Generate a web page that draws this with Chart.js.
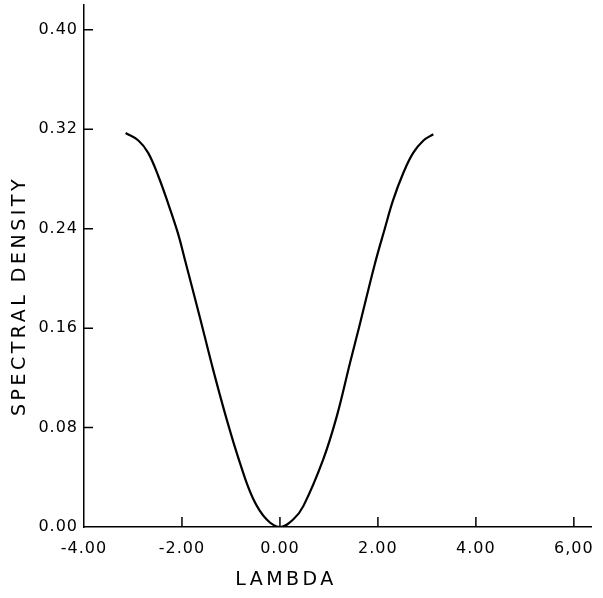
<!DOCTYPE html>
<html>
<head>
<meta charset="utf-8">
<script src="https://cdn.jsdelivr.net/npm/chart.js@4.4.1/dist/chart.umd.min.js"></script>
<style>
  html, body { margin: 0; padding: 0; background: #fff; }
  #wrap { width: 603px; height: 598px; }
</style>
</head>
<body>
<div id="wrap"><canvas id="densityChart"></canvas></div>
<script>
// values
const lambda = [-3.15, -2.89, -2.69, -2.48, -2.28, -2.08, -1.94, -1.63, -1.36, -1.09, -0.82, -0.55, -0.27, 0.00,
                0.27, 0.48, 0.88, 1.16, 1.43, 1.63, 1.94, 2.14, 2.31, 2.52, 2.72, 2.93, 3.13];
const density = [0.317, 0.311, 0.301, 0.282, 0.260, 0.236, 0.215, 0.168, 0.126, 0.087, 0.052, 0.023, 0.006, 0.000,
                 0.006, 0.017, 0.054, 0.089, 0.132, 0.163, 0.212, 0.240, 0.263, 0.285, 0.301, 0.311, 0.316];
const xTicks = [-4, -2, 0, 2, 4, 6];
const yTicks = [0, 0.08, 0.16, 0.24, 0.32, 0.40];

const points = [];
for (let i = 0; i < lambda.length; i++) {
    points.push({ x: lambda[i], y: density[i] });
}

// inward tick marks + spaced axis titles
const axisExtras = {
    id: 'axisExtras',
    afterDraw(chart) {
        const ctx = chart.ctx;
        const xs = chart.scales.x, ys = chart.scales.y;
        const area = chart.chartArea;
        ctx.save();
        ctx.strokeStyle = '#000';
        ctx.lineWidth = 1.5;
        ctx.beginPath();
        xTicks.forEach(function (v) {
            if (v === -4) return;
            const px = xs.getPixelForValue(v);
            ctx.moveTo(px, area.bottom);
            ctx.lineTo(px, area.bottom - 10);
        });
        yTicks.forEach(function (v) {
            if (v === 0) return;
            const py = ys.getPixelForValue(v);
            ctx.moveTo(area.left, py);
            ctx.lineTo(area.left + 9, py);
        });
        ctx.stroke();

        ctx.fillStyle = '#000';
        ctx.font = '19px "DejaVu Sans"';
        ctx.letterSpacing = '3.5px';
        ctx.textAlign = 'center';
        ctx.textBaseline = 'middle';
        ctx.fillText('LAMBDA', 286, 580);
        ctx.translate(20, 296);
        ctx.rotate(-Math.PI / 2);
        ctx.fillText('SPECTRAL DENSITY', 0, 0);
        ctx.restore();
    }
};

const spacing = {
    id: 'spacing',
    beforeDraw(chart) { chart.ctx.letterSpacing = '1px'; }
};

new Chart(document.getElementById('densityChart'), {
    type: 'scatter',
    data: {
        datasets: [{
            data: points,
            showLine: true,
            borderColor: '#000',
            borderWidth: 2.2,
            pointRadius: 0,
            tension: 0.4
        }]
    },
    options: {
        responsive: true,
        maintainAspectRatio: false,
        animation: false,
        layout: { padding: { left: 0, top: 5, right: 12, bottom: 0 } },
        plugins: { legend: { display: false }, tooltip: { enabled: false } },
        scales: {
            x: {
                type: 'linear',
                min: -4,
                max: 6.35,
                afterFit: function (s) { s.height = 71; s.paddingLeft = 0; s.paddingRight = 0; },
                afterBuildTicks: function (s) { s.ticks = xTicks.map(v => ({ value: v })); },
                grid: { display: false, drawTicks: false },
                border: { display: true, color: '#000', width: 1.5 },
                ticks: {
                    padding: 12,
                    color: '#000',
                    font: { family: 'DejaVu Sans', size: 16 },
                    maxRotation: 0,
                    callback: function (v) { return v === 6 ? '6,00' : v.toFixed(2); }
                }
            },
            y: {
                min: 0,
                max: 0.42,
                afterFit: function (s) { s.width = 84; s.paddingTop = 0; s.paddingBottom = 0; },
                afterBuildTicks: function (s) { s.ticks = yTicks.map(v => ({ value: v })); },
                grid: { display: false, drawTicks: false },
                border: { display: true, color: '#000', width: 1.5 },
                ticks: {
                    padding: 6,
                    color: '#000',
                    font: { family: 'DejaVu Sans', size: 16 },
                    callback: function (v) { return v.toFixed(2); }
                }
            }
        }
    },
    plugins: [spacing, axisExtras]
});
</script>
</body>
</html>
